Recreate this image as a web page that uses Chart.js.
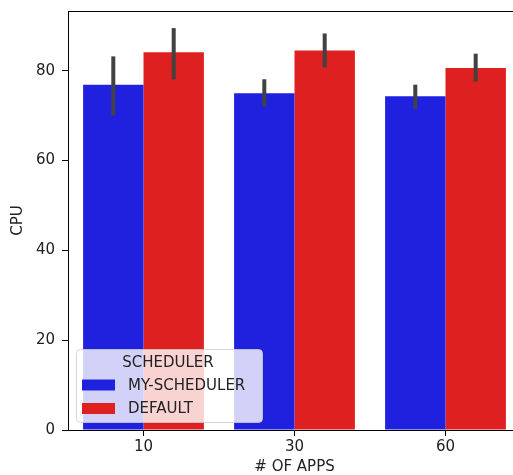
<!DOCTYPE html>
<html>
<head>
<meta charset="utf-8">
<script src="https://cdn.jsdelivr.net/npm/chart.js@4.4.0/dist/chart.umd.min.js"></script>
<style>
  html, body { margin: 0; padding: 0; overflow: hidden; background: #fff; }
  #myChart { display: block; }
</style>
</head>
<body>
<canvas id="myChart" width="521" height="475"></canvas>
<script>
// data
const apps = ["10", "30", "60"];
const schedulers = ["MY-SCHEDULER", "DEFAULT"];
const myScheduler = [76.9, 75.0, 74.3];
const defaultSched = [84.1, 84.5, 80.6];
// error bar ends (low, high)
const myLow = [70.0, 72.0, 71.5];
const myHigh = [83.2, 78.1, 76.9];
const defLow = [78.1, 80.7, 77.6];
const defHigh = [89.5, 88.3, 83.8];
const yTicks = [0, 20, 40, 60, 80];

const blue = "rgb(32,32,223)";
const red = "rgb(223,32,32)";
const fontFam = "'DejaVu Sans', sans-serif";

const errLows = [myLow, defLow];
const errHighs = [myHigh, defHigh];

// draws the error bars, the top spine and the legend box
const extras = {
  id: "extras",
  afterDatasetsDraw(chart) {
    const ctx = chart.ctx;
    const y = chart.scales.y;
    ctx.save();
    ctx.strokeStyle = "#424242";
    ctx.lineWidth = 4;
    chart.data.datasets.forEach((ds, di) => {
      const meta = chart.getDatasetMeta(di);
      meta.data.forEach((bar, i) => {
        ctx.beginPath();
        ctx.moveTo(bar.x, y.getPixelForValue(errLows[di][i]));
        ctx.lineTo(bar.x, y.getPixelForValue(errHighs[di][i]));
        ctx.stroke();
      });
    });
    // top spine
    const a = chart.chartArea;
    ctx.strokeStyle = "#000";
    ctx.lineWidth = 1;
    ctx.beginPath();
    ctx.moveTo(a.left, a.top + 0.5);
    ctx.lineTo(a.right, a.top + 0.5);
    ctx.stroke();

    // legend
    const lx = 76, ly = 349, lw = 186, lh = 73;
    ctx.fillStyle = "rgba(255,255,255,0.8)";
    ctx.strokeStyle = "rgba(204,204,204,0.8)";
    ctx.beginPath();
    ctx.roundRect(lx + 0.5, ly + 0.5, lw, lh, 4);
    ctx.fill();
    ctx.stroke();
    ctx.font = "15px " + fontFam;
    ctx.fillStyle = "#222";
    ctx.textAlign = "center";
    ctx.textBaseline = "middle";
    ctx.fillText("SCHEDULER", 168, 363);
    ctx.textAlign = "left";
    chart.data.datasets.forEach((ds, di) => {
      const cy = 385 + di * 23.5;
      ctx.fillStyle = ds.backgroundColor;
      ctx.fillRect(82, cy - 5.5, 33, 11);
      ctx.fillStyle = "#222";
      ctx.fillText(ds.label, 128, cy + 1);
    });
    ctx.restore();
  }
};

const data = {
  labels: apps,
  datasets: [
    { label: schedulers[0], data: myScheduler, backgroundColor: blue },
    { label: schedulers[1], data: defaultSched, backgroundColor: red }
  ]
};

const config = {
  type: "bar",
  data,
  options: {
    responsive: false,
    animation: false,
    layout: { padding: { top: 11, right: 0, left: 0, bottom: 0 } },
    datasets: { bar: { categoryPercentage: 0.8, barPercentage: 1.0 } },
    plugins: { legend: { display: false }, tooltip: { enabled: false } },
    scales: {
      x: {
        grid: { offset: false, drawOnChartArea: false, color: "#000", tickLength: 6, tickWidth: 1 },
        border: { color: "#000", width: 1 },
        ticks: { color: "#222", font: { family: fontFam, size: 15 }, padding: 2, maxRotation: 0 },
        title: { display: true, text: "# OF APPS", color: "#222", font: { family: fontFam, size: 15 }, padding: { top: 0, bottom: -1 } },
        afterFit(scale) { scale.height = 45; scale.paddingLeft = 0; scale.paddingRight = 0; }
      },
      y: {
        min: 0,
        max: 93.3,
        afterBuildTicks(scale) { scale.ticks = yTicks.map(v => ({ value: v })); },
        grid: { drawOnChartArea: false, color: "#000", tickLength: 6, tickWidth: 1 },
        border: { color: "#000", width: 1 },
        ticks: { color: "#222", font: { family: fontFam, size: 15 }, padding: 7 },
        title: { display: true, text: "CPU", color: "#222", font: { family: fontFam, size: 15 }, padding: { top: 9, bottom: 0 } },
        afterFit(scale) { scale.width = 68; scale.paddingTop = 0; scale.paddingBottom = 0; }
      }
    }
  },
  plugins: [extras]
};

new Chart(document.getElementById("myChart"), config);
</script>
</body>
</html>
